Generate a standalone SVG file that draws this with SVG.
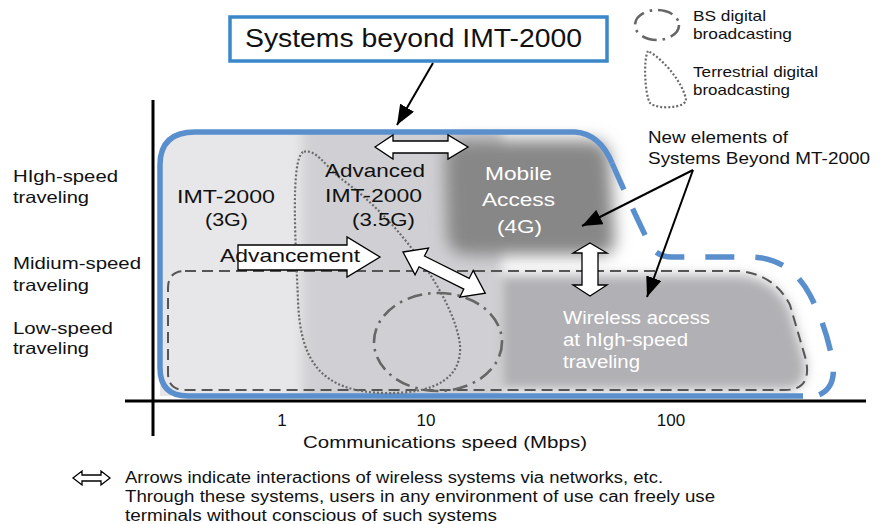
<svg xmlns="http://www.w3.org/2000/svg" width="885" height="524" viewBox="0 0 885 524">
<style>
text{font-family:"Liberation Sans",Arial,sans-serif;fill:#111}
.w{fill:#fff}
.wa{fill:#fff;stroke:#000;stroke-width:1.3;stroke-linejoin:miter}
.blue{fill:none;stroke:#5a8fcd;stroke-width:5.5}
.gdash{fill:none;stroke:#555;stroke-width:2;stroke-dasharray:11 6}
.dot{fill:none;stroke:#6a6a6a;stroke-width:2.2;stroke-dasharray:2 2}
.dd{fill:none;stroke:#666;stroke-width:2.6;stroke-dasharray:15 6 2.5 6}
.blk{fill:none;stroke:#000;stroke-width:2}
</style>
<defs>
<filter id="bl" x="-30%" y="-30%" width="160%" height="160%"><feGaussianBlur stdDeviation="6"/></filter>
<filter id="bl2" x="-30%" y="-30%" width="160%" height="160%"><feGaussianBlur stdDeviation="8"/></filter>
<clipPath id="inside"><path d="M160 396 L160 165 Q160 132 195 132 L575 132 Q600 134 612 163 L640 250 L640 396 Z"/></clipPath>
<marker id="ah" viewBox="0 0 20 16" refX="20" refY="8" markerWidth="20" markerHeight="16" markerUnits="userSpaceOnUse" orient="auto"><path d="M0 0 L20 8 L0 16 Z" fill="#000"/></marker>
</defs>

<g id="background">
<g clip-path="url(#inside)">
<rect x="150" y="120" width="320" height="290" fill="#e7e7e9"/>
<rect x="302" y="115" width="200" height="300" fill="#d0d0d4" filter="url(#bl)"/>
</g>
<path d="M500 275 L740 275 Q775 278 790 308 L805 360 Q810 390 785 390 L500 390 Z" fill="#b1b0b4" filter="url(#bl)"/>
<path d="M465 140 L590 140 Q608 140 610 160 L615 240 Q615 255 598 255 L470 255 Q448 255 447 235 L445 160 Q445 140 465 140 Z" fill="#878787" filter="url(#bl2)"/>
</g>

<g id="axes">
<line x1="153" y1="100" x2="153" y2="436" stroke="#000" stroke-width="3"/>
<line x1="125" y1="401" x2="866" y2="401" stroke="#000" stroke-width="3"/>
</g>

<g id="systems-beyond-outline">
<path class="blue" d="M803 396 L188 396 Q160 396 160 368 L160 165 Q160 132 195 132 L575 132 Q600 134 612 163"/>
<path class="blue" stroke-dasharray="29 21" d="M612 163 Q635 215 650 245 Q657 257 672 257 L752 257 Q790 258 810 295 Q828 330 833 365 Q836 392 812 397"/>
</g>

<g id="low-speed-zone">
<path class="gdash" d="M185 271 L740 271 Q775 275 790 305 L806 360 Q812 390 785 390 L185 390 Q168 390 168 373 L168 288 Q168 271 185 271 Z"/>
</g>

<g id="terrestrial-region">
<path class="dot" d="M303 152 C290 160 296 250 298 300 C300 360 320 392 385 393 C440 394 462 375 460 345 C455 300 400 220 340 178 C325 165 315 148 303 152 Z"/>
</g>
<g id="bs-region">
<ellipse class="dd" cx="438" cy="342" rx="64" ry="49"/>
</g>

<g id="title">
<rect x="230" y="17" width="377" height="44" fill="#fff" stroke="#3a87c9" stroke-width="3.5"/>
<text x="245" y="47" font-size="26" textLength="337" lengthAdjust="spacingAndGlyphs">Systems beyond IMT-2000</text>
</g>

<g id="legend-bs">
<ellipse class="dd" cx="657" cy="25" rx="22" ry="15" stroke-width="2.2" stroke-dasharray="12 5 2 5"/>
<text x="693" y="21" font-size="15" textLength="73" lengthAdjust="spacingAndGlyphs">BS digital</text>
<text x="693" y="39" font-size="15" textLength="99" lengthAdjust="spacingAndGlyphs">broadcasting</text>
</g>
<g id="legend-terrestrial">
<path class="dot" stroke-width="2" d="M648 51 C643 60 645 95 650 103 C658 110 685 108 686 100 C684 85 665 60 648 51 Z"/>
<text x="693" y="77" font-size="15" textLength="125" lengthAdjust="spacingAndGlyphs">Terrestrial digital</text>
<text x="693" y="95" font-size="15" textLength="97" lengthAdjust="spacingAndGlyphs">broadcasting</text>
</g>

<g id="y-labels">
<text x="13" y="182" font-size="16.5" textLength="105" lengthAdjust="spacingAndGlyphs">HIgh-speed</text>
<text x="13" y="203" font-size="16.5" textLength="76" lengthAdjust="spacingAndGlyphs">traveling</text>
<text x="13" y="269" font-size="16.5" textLength="128" lengthAdjust="spacingAndGlyphs">Midium-speed</text>
<text x="13" y="291" font-size="16.5" textLength="76" lengthAdjust="spacingAndGlyphs">traveling</text>
<text x="13" y="334" font-size="16.5" textLength="100" lengthAdjust="spacingAndGlyphs">Low-speed</text>
<text x="13" y="354" font-size="16.5" textLength="76" lengthAdjust="spacingAndGlyphs">traveling</text>
</g>

<g id="x-labels">
<text x="282" y="426" font-size="17" text-anchor="middle">1</text>
<text x="426" y="426" font-size="17" text-anchor="middle">10</text>
<text x="671" y="426" font-size="17" text-anchor="middle">100</text>
<text x="303" y="448" font-size="17" textLength="284" lengthAdjust="spacingAndGlyphs">Communications speed (Mbps)</text>
</g>

<g id="imt2000">
<text x="177" y="203" font-size="19" textLength="98" lengthAdjust="spacingAndGlyphs">IMT-2000</text>
<text x="205" y="226" font-size="19" textLength="43" lengthAdjust="spacingAndGlyphs">(3G)</text>
</g>
<g id="advanced-imt2000">
<text x="325" y="177" font-size="19" textLength="100" lengthAdjust="spacingAndGlyphs">Advanced</text>
<text x="325" y="202" font-size="19" textLength="97" lengthAdjust="spacingAndGlyphs">IMT-2000</text>
<text x="352" y="226" font-size="19" textLength="63" lengthAdjust="spacingAndGlyphs">(3.5G)</text>
</g>
<g id="mobile-access">
<text class="w" x="485" y="180" font-size="19" textLength="67" lengthAdjust="spacingAndGlyphs">Mobile</text>
<text class="w" x="482" y="206" font-size="19" textLength="73" lengthAdjust="spacingAndGlyphs">Access</text>
<text class="w" x="497" y="233" font-size="19" textLength="45" lengthAdjust="spacingAndGlyphs">(4G)</text>
</g>
<g id="wireless-access">
<text class="w" x="563" y="324" font-size="17.5" textLength="147" lengthAdjust="spacingAndGlyphs">Wireless access</text>
<text class="w" x="563" y="346" font-size="17.5" textLength="125" lengthAdjust="spacingAndGlyphs">at hIgh-speed</text>
<text class="w" x="563" y="368" font-size="17.5" textLength="77" lengthAdjust="spacingAndGlyphs">traveling</text>
</g>
<g id="new-elements">
<text x="648" y="143" font-size="17" textLength="140" lengthAdjust="spacingAndGlyphs">New elements of</text>
<text x="648" y="164" font-size="17" textLength="222" lengthAdjust="spacingAndGlyphs">Systems Beyond MT-2000</text>
</g>

<g id="connectors">
<line class="blk" x1="433" y1="63" x2="397" y2="125" marker-end="url(#ah)"/>
<line class="blk" x1="693" y1="170" x2="582" y2="226" marker-end="url(#ah)"/>
<line class="blk" x1="693" y1="170" x2="647" y2="297" marker-end="url(#ah)"/>
<polygon class="wa" points="375,147 393,135 393,141 448,141 448,135 468,147 448,159 448,153 393,153 393,159"/>
<polygon class="wa" points="238,245 347,245 347,237 380,257 347,277 347,270 238,270"/>
<polygon class="wa" transform="translate(403,252) rotate(26.6)" points="0,0 21,-15 21,-6 71,-6 71,-15 92,0 71,15 71,6 21,6 21,15"/>
<polygon class="wa" points="590,243 607,253 598,253 598,285 607,285 590,296 573,285 582,285 582,253 573,253"/>
</g>
<g id="advancement-label">
<text x="220" y="262" font-size="19" textLength="140" lengthAdjust="spacingAndGlyphs">Advancement</text>
</g>

<g id="footnote">
<polygon class="wa" points="73,478 82,471 82,475 101,475 101,471 110,478 101,485 101,481 82,481 82,485"/>
<text x="125" y="483" font-size="16" textLength="538" lengthAdjust="spacingAndGlyphs">Arrows indicate interactions of wireless systems via networks, etc.</text>
<text x="125" y="502" font-size="16" textLength="590" lengthAdjust="spacingAndGlyphs">Through these systems, users in any environment of use can freely use</text>
<text x="125" y="521" font-size="16" textLength="372" lengthAdjust="spacingAndGlyphs">terminals without conscious of such systems</text>
</g>
</svg>
